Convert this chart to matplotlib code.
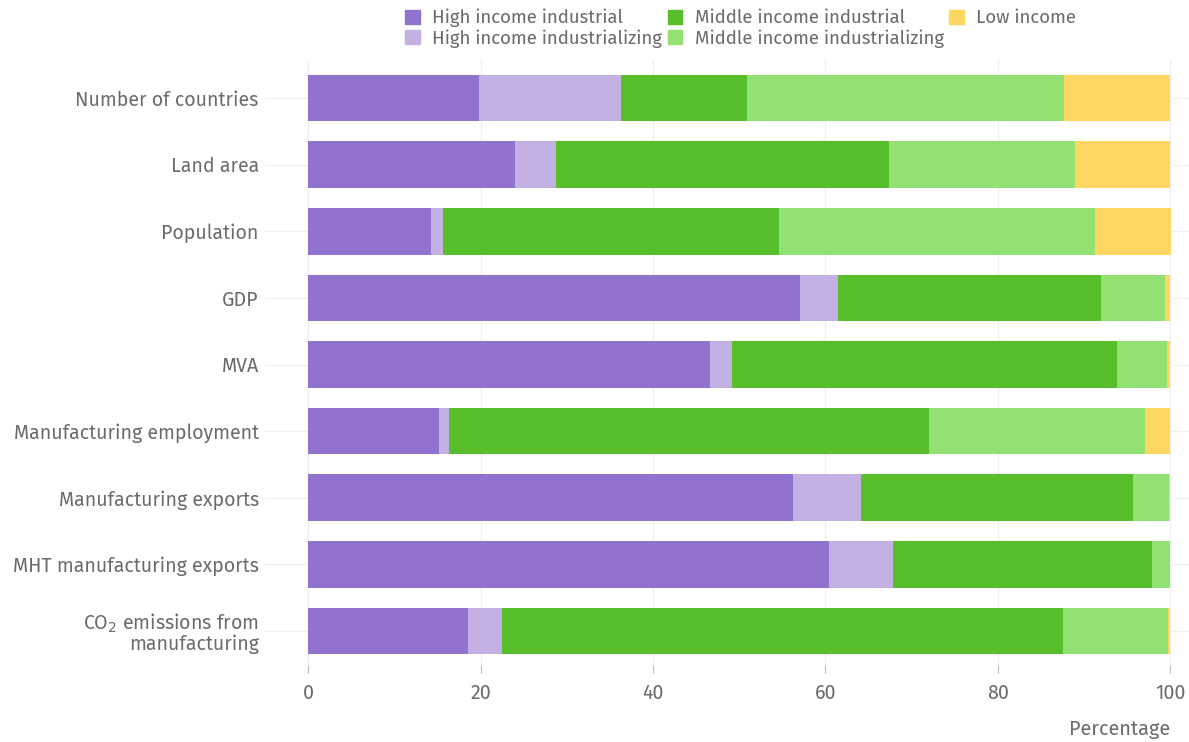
import numpy as np
import matplotlib.pyplot as plt
from matplotlib.patches import Patch

# anteile je indikator (prozent), von oben nach unten
kategorien = ["Number of countries", "Land area", "Population", "GDP", "MVA",
              "Manufacturing employment", "Manufacturing exports",
              "MHT manufacturing exports", "CO$_2$ emissions from\nmanufacturing"]

high_industrial = [19.8, 24.0, 14.2, 57.1, 46.6, 15.2, 56.3, 60.4, 18.6]
high_industrializing = [16.5, 4.8, 1.5, 4.4, 2.6, 1.2, 7.9, 7.5, 3.9]
middle_industrial = [14.6, 38.6, 38.9, 30.5, 44.7, 55.6, 31.5, 30.0, 65.1]
middle_industrializing = [36.8, 21.6, 36.7, 7.4, 5.8, 25.1, 4.2, 2.1, 12.2]
low_income = [12.3, 11.0, 8.8, 0.6, 0.3, 2.9, 0.1, 0.0, 0.2]

gruppen = ["High income industrial", "High income industrializing",
           "Middle income industrial", "Middle income industrializing", "Low income"]
farben = ["#9172cf", "#c3b1e3", "#56bf2b", "#93e073", "#fdd761"]
werte = [high_industrial, high_industrializing, middle_industrial,
         middle_industrializing, low_income]

plt.rcParams['font.family'] = ['Fira Sans', 'Lato', 'DejaVu Sans']
textfarbe = "#6b6b6b"

fig = plt.figure(figsize=(11.89, 7.42), dpi=100)
ax = fig.add_axes([0.2229, 0.1038, 0.7771, 0.8153])

y = np.arange(len(kategorien))
links = np.zeros(len(kategorien))
for name, farbe, w in zip(gruppen, farben, werte):
    w = np.array(w)
    ax.barh(y, w, left=links, height=0.7, color=farbe, label=name, zorder=3)
    links = links + w

ax.set_xlim(-5, 102.2)
ax.set_ylim(8.51, -0.57)
ax.set_yticks(y)
ax.set_yticklabels(kategorien, fontsize=14.1, color=textfarbe, linespacing=0.95)
ax.set_xticks([0, 20, 40, 60, 80, 100])
ax.tick_params(axis='y', length=0, pad=4.5)
ax.tick_params(axis='x', length=6, color="#bbbbbb", labelsize=14.1, labelcolor=textfarbe, pad=7)
for s in ax.spines.values():
    s.set_visible(False)
ax.grid(True, color="#f0f0f0", linewidth=1, zorder=0)
ax.set_xlabel("Percentage", fontsize=14.3, color=textfarbe)
ax.xaxis.set_label_coords(1 - 19 / 924, -0.09)
ax.xaxis.label.set_horizontalalignment('right')

handles = [Patch(color=f, label=g) for f, g in zip(farben, gruppen)]
fig.legend(handles=handles, ncol=3, loc='upper left', bbox_to_anchor=(0.3345, 0.998),
           frameon=False, fontsize=13.4, labelcolor=textfarbe, handlelength=0.8,
           handleheight=0.8, handletextpad=0.65, columnspacing=0.3, labelspacing=0.1,
           borderaxespad=0)

fig.savefig("out.png", dpi=100)
